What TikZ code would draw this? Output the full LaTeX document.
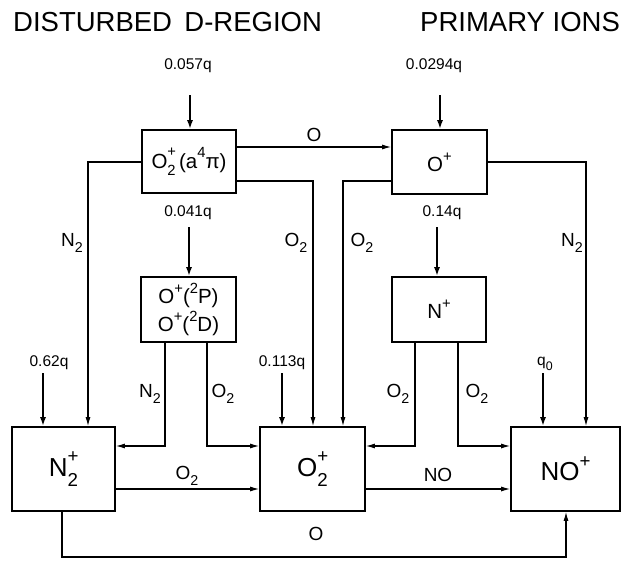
\documentclass[tikz,border=0pt]{standalone}
\usepackage{fontspec}
\setmainfont{Liberation Sans}
\usetikzlibrary{arrows.meta}
\newcommand\ionsc[2]{\rlap{\raisebox{0.55em}{\scalebox{0.72}{#1}}}\raisebox{-0.36em}{\scalebox{0.72}{#2}}}
\newcommand\subtwo{\raisebox{-0.3em}{\scalebox{0.75}{2}}}
\newcommand\supr[1]{\raisebox{0.5em}{\scalebox{0.72}{#1}}}
\begin{document}
\begin{tikzpicture}[x=1pt,y=-1pt,
  box/.style={draw,line width=1.6pt,inner sep=0pt,font=\fontsize{20.5}{24}\selectfont},
  bigbox/.style={draw,line width=1.6pt,inner sep=0pt,minimum width=104pt,minimum height=84pt,font=\fontsize{26}{30}\selectfont},
  conn/.style={line width=1.1pt,-{Latex[length=9pt,width=5pt]}},
  plain/.style={line width=1.1pt},
  inp/.style={line width=2.4pt,-{Latex[length=9pt,width=6pt]}},
  rate/.style={font=\fontsize{15.5}{18}\selectfont,inner sep=0pt},
  lab/.style={font=\fontsize{19}{22}\selectfont,inner sep=0pt},
  ttl/.style={font=\fontsize{27.5}{32}\selectfont,inner sep=0pt,anchor=base west}]
\path[use as bounding box] (0,0) rectangle (627,562);
% titles
\node[ttl] (t1) at (13,31) {DISTURBED\hspace{0.45em}D-REGION};
\node[ttl] (t2) at (420,31) {PRIMARY IONS};
% boxes
\node[box,minimum width=94pt,minimum height=63pt] (A) at (189,161.5) {O\ionsc{+}{2}\,(a\supr{4}π)};
\node[box,minimum width=95pt,minimum height=64pt] (B) at (439.5,162) {O\supr{+}};
\node[box,minimum width=95pt,minimum height=65pt,align=center,font=\fontsize{20.5}{28}\selectfont] (C) at (188.5,309.5) {O\supr{+}(\supr{2}P)\\O\supr{+}(\supr{2}D)};
\node[box,minimum width=94pt,minimum height=65pt] (D) at (439,309.5) {N\supr{+}};
\node[bigbox,minimum width=103pt] (E) at (63.5,469) {N\ionsc{+}{2}};
\node[bigbox,minimum width=105pt] (F) at (312.5,469) {O\ionsc{+}{2}};
\node[bigbox,minimum width=109pt] (G) at (565.5,469) {NO\supr{+}};
% input rates
\coordinate (i1) at (190,95);
\coordinate (i2) at (440,95);
\coordinate (i3) at (189,227);
\coordinate (i4) at (437,227);
\coordinate (i5) at (43,373);
\coordinate (i6) at (282,373);
\coordinate (i7) at (543,373);
\draw[inp] (i1) -- (i1 |- A.north);
\draw[inp] (i2) -- (i2 |- B.north);
\draw[inp] (i3) -- (i3 |- C.north);
\draw[inp] (i4) -- (i4 |- D.north);
\draw[inp] (i5) -- (i5 |- E.north);
\draw[inp] (i6) -- (i6 |- F.north);
\draw[inp] (i7) -- (i7 |- G.north);
\node[rate] (q1) at (188,66) {0.057q};
\node[rate] (q2) at (434,66) {0.0294q};
\node[rate] (q3) at (188,213) {0.041q};
\node[rate] (q4) at (442,213) {0.14q};
\node[rate] (q5) at (49,363) {0.62q};
\node[rate] (q6) at (282,363) {0.113q};
\node[rate] (q7) at (545,364) {q\raisebox{-0.3em}{\scalebox{0.8}{0}}};
% A -> B
\coordinate (rAB) at (0,147);
\draw[conn] (A.east |- rAB) -- (B.west |- rAB);
\node[lab] (lO1) at (314,135) {O};
% rails
\coordinate (c1) at (88,162);
\coordinate (c2) at (313,181);
\coordinate (c3) at (343,181);
\coordinate (c4) at (586,162);
\draw[conn] (A.west |- c1) -- (c1) -- (c1 |- E.north);
\draw[conn] (A.east |- c2) -- (c2) -- (c2 |- F.north);
\draw[conn] (B.west |- c3) -- (c3) -- (c3 |- F.north);
\draw[conn] (B.east |- c4) -- (c4) -- (c4 |- G.north);
\node[lab] (l1) at (72,243) {N\subtwo};
\node[lab] (l2) at (296,243) {O\subtwo};
\node[lab] (l3) at (362,243) {O\subtwo};
\node[lab] (l4) at (572,243) {N\subtwo};
\coordinate (c5) at (165,446);
\coordinate (c6) at (207,446);
\coordinate (c7) at (415,446);
\coordinate (c8) at (458,446);
\draw[conn] (c5 |- C.south) -- (c5) -- (c5 -| E.east);
\draw[conn] (c6 |- C.south) -- (c6) -- (c6 -| F.west);
\draw[conn] (c7 |- D.south) -- (c7) -- (c7 -| F.east);
\draw[conn] (c8 |- D.south) -- (c8) -- (c8 -| G.west);
\node[lab] (l5) at (150,394) {N\subtwo};
\node[lab] (l6) at (223,394) {O\subtwo};
\node[lab] (l7) at (398,394) {O\subtwo};
\node[lab] (l8) at (477,394) {O\subtwo};
% bottom row
\coordinate (rE) at (0,489);
\draw[conn] (E.east |- rE) -- (F.west |- rE);
\draw[conn] (F.east |- rE) -- (G.west |- rE);
\node[lab] (l9) at (187,476) {O\subtwo};
\node[lab] (l10) at (438,475) {NO};
\coordinate (b1) at (62,557);
\coordinate (b2) at (566,557);
\draw[conn] (b1 |- E.south) -- (b1) -- (b2) -- (b2 |- G.south);
\node[lab] (l11) at (316,534) {O};
\end{tikzpicture}
\end{document}
